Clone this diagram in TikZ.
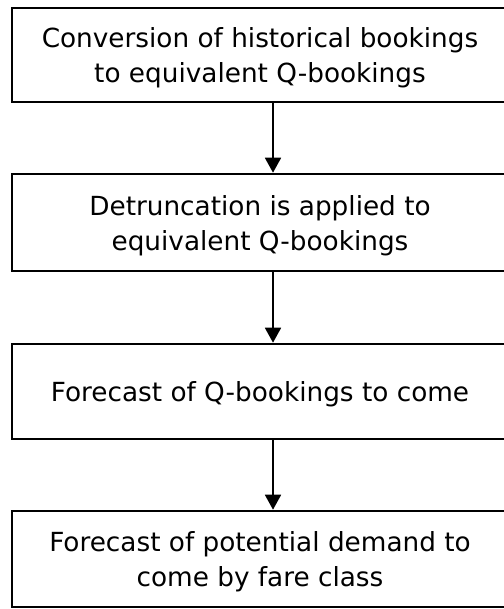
\documentclass[tikz,border=0pt]{standalone}
\usepackage{fontspec}
\setmainfont{DejaVu Sans}
\usetikzlibrary{arrows.meta}
\begin{document}
\begin{tikzpicture}[x=1bp,y=-1bp,
  stepbox/.style={draw,line width=2.6bp,minimum width=496bp,inner sep=0pt},
  steptext/.style={align=center,inner sep=0pt,yshift=-3bp,font=\fontsize{26.4}{35}\selectfont},
  conn/.style={line width=1.8bp,-{Triangle[width=16bp,length=15bp]}}]
\useasboundingbox (0,0) rectangle (504,609);
\node[stepbox,minimum height=94bp] (b1) at (260,55) {};
\node[stepbox,minimum height=97bp] (b2) at (260,222.5) {};
\node[stepbox,minimum height=95bp] (b3) at (260,391.5) {};
\node[stepbox,minimum height=96bp] (b4) at (260,559) {};
\node[steptext] (t1) at (b1.center) {Conversion of historical bookings\\to equivalent Q-bookings};
\node[steptext] (t2) at (b2.center) {Detruncation is applied to\\equivalent Q-bookings};
\node[steptext] (t3) at (b3.center) {Forecast of Q-bookings to come};
\node[steptext] (t4) at (b4.center) {Forecast of potential demand to\\come by fare class};
\draw[conn] (b1.south -| 273,0) -- (b2.north -| 273,0);
\draw[conn] (b2.south -| 273,0) -- (b3.north -| 273,0);
\draw[conn] (b3.south -| 273,0) -- (b4.north -| 273,0);
\end{tikzpicture}
\end{document}
